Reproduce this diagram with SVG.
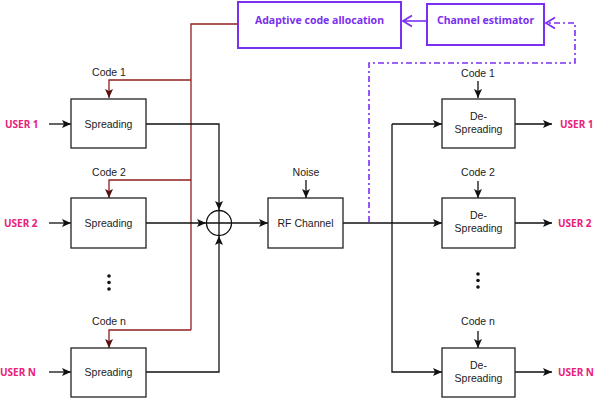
<svg xmlns="http://www.w3.org/2000/svg" width="606" height="404" viewBox="0 0 606 404">
<style>
.box{fill:#fff;stroke:#222;stroke-width:1.3}
.pbox{fill:#fff;stroke:#7b2ff0;stroke-width:2}
.ln{fill:none;stroke:#111;stroke-width:1.3}
.red{fill:none;stroke:#8e1f1f;stroke-width:1.3}
.pd{fill:none;stroke:#7b2ff0;stroke-width:1.6;stroke-dasharray:6 3 2 3}
.pl{fill:none;stroke:#7b2ff0;stroke-width:1.6}
.t{font-family:"Liberation Sans",Arial,sans-serif;font-size:10.5px;fill:#222;text-anchor:middle}
.u{font-family:"Noto Sans",sans-serif;font-size:10px;font-weight:bold;fill:#e8207a}
.p{font-family:"Noto Sans",sans-serif;font-size:10.5px;font-weight:bold;fill:#7b2ff0;text-anchor:middle}
</style>
<defs>
<marker id="ah" markerWidth="10" markerHeight="10" refX="9" refY="5" orient="auto" markerUnits="userSpaceOnUse">
<path d="M0,1 L9,5 L0,9 L2,5 Z" fill="#111"/>
</marker>
<marker id="ahr" markerWidth="10" markerHeight="10" refX="9" refY="5" orient="auto" markerUnits="userSpaceOnUse">
<path d="M0,1 L9,5 L0,9 L2,5 Z" fill="#5a1010"/>
</marker>
<marker id="ahp" markerWidth="12" markerHeight="14" refX="10" refY="7" orient="auto" markerUnits="userSpaceOnUse">
<path d="M1,1.5 L10,7 L1,12.5" fill="none" stroke="#7b2ff0" stroke-width="1.8"/>
</marker>
</defs>
<rect width="606" height="404" fill="#fff"/>
<g id="connectors">
<path class="red" d="M238,24 H191 V330"/>
<path class="red" d="M191,80 H109 V98" marker-end="url(#ahr)"/>
<path class="red" d="M191,180 H109 V198" marker-end="url(#ahr)"/>
<path class="red" d="M191,330 H109 V348" marker-end="url(#ahr)"/>
<path class="ln" d="M49,124 H71" marker-end="url(#ah)"/>
<path class="ln" d="M49,223 H71" marker-end="url(#ah)"/>
<path class="ln" d="M49,372 H71" marker-end="url(#ah)"/>
<path class="ln" d="M146,124 H219 V210" marker-end="url(#ah)"/>
<path class="ln" d="M146,223 H206" marker-end="url(#ah)"/>
<path class="ln" d="M146,372 H219 V236" marker-end="url(#ah)"/>
<path class="ln" d="M232,223 H268" marker-end="url(#ah)"/>
<path class="ln" d="M306,180 V198" marker-end="url(#ah)"/>
<path class="ln" d="M343,223 H442" marker-end="url(#ah)"/>
<path class="ln" d="M392,124 V372 H442" marker-end="url(#ah)"/>
<path class="ln" d="M392,124 H442" marker-end="url(#ah)"/>
<path class="ln" d="M478,81 V98" marker-end="url(#ah)"/>
<path class="ln" d="M478,181 V198" marker-end="url(#ah)"/>
<path class="ln" d="M478,331 V348" marker-end="url(#ah)"/>
<path class="ln" d="M515,124 H552" marker-end="url(#ah)"/>
<path class="ln" d="M515,223 H552" marker-end="url(#ah)"/>
<path class="ln" d="M515,372 H552" marker-end="url(#ah)"/>
<path class="pd" d="M369,222 V63 H575 V23 H546" marker-end="url(#ahp)"/>
<path class="pl" d="M427,21 H403" marker-end="url(#ahp)"/>
</g>
<g id="adaptive"><rect class="pbox" x="238" y="2" width="163" height="46"/><text class="p" x="319.5" y="24">Adaptive code allocation</text></g>
<g id="estimator"><rect class="pbox" x="427" y="4" width="117" height="41"/><text class="p" x="485.5" y="24">Channel estimator</text></g>
<g id="user1"><text class="u" x="5" y="127.5">USER 1</text></g>
<g id="user2"><text class="u" x="4" y="226.5">USER 2</text></g>
<g id="userN"><text class="u" x="0" y="375.5">USER N</text></g>
<g id="code1"><text class="t" x="109" y="76">Code 1</text></g>
<g id="code2"><text class="t" x="109" y="176">Code 2</text></g>
<g id="coden"><text class="t" x="109" y="325">Code  n</text></g>
<g id="spread1"><rect class="box" x="71" y="99" width="75" height="49"/><text class="t" x="108.5" y="128">Spreading</text></g>
<g id="spread2"><rect class="box" x="71" y="198" width="75" height="50"/><text class="t" x="108.5" y="226.5">Spreading</text></g>
<g id="spreadN"><rect class="box" x="71" y="348" width="75" height="49"/><text class="t" x="108.5" y="375.5">Spreading</text></g>
<g id="dotsL"><circle cx="109" cy="276" r="1.8" fill="#111"/><circle cx="109" cy="282.5" r="1.8" fill="#111"/><circle cx="109" cy="289" r="1.8" fill="#111"/></g>
<g id="adder"><circle cx="219" cy="223" r="12.5" fill="#fff" stroke="#111" stroke-width="1.3"/><path class="ln" d="M219,211 V235 M207,223 H231"/></g>
<g id="noise"><text class="t" x="306" y="176">Noise</text></g>
<g id="rf"><rect class="box" x="268" y="198" width="75" height="50"/><text class="t" x="305.5" y="226.5">RF Channel</text></g>
<g id="rcode1"><text class="t" x="478" y="77">Code 1</text></g>
<g id="rcode2"><text class="t" x="478" y="176">Code 2</text></g>
<g id="rcoden"><text class="t" x="478" y="325">Code  n</text></g>
<g id="despread1"><rect class="box" x="442" y="99" width="73" height="49"/><text class="t" x="478.5" y="120">De-</text><text class="t" x="478.5" y="133">Spreading</text></g>
<g id="despread2"><rect class="box" x="442" y="198" width="73" height="50"/><text class="t" x="478.5" y="219">De-</text><text class="t" x="478.5" y="232">Spreading</text></g>
<g id="despreadN"><rect class="box" x="442" y="348" width="73" height="49"/><text class="t" x="478.5" y="369">De-</text><text class="t" x="478.5" y="382">Spreading</text></g>
<g id="dotsR"><circle cx="478" cy="274" r="1.8" fill="#111"/><circle cx="478" cy="280.5" r="1.8" fill="#111"/><circle cx="478" cy="287" r="1.8" fill="#111"/></g>
<g id="out1"><text class="u" x="560" y="127.5">USER 1</text></g>
<g id="out2"><text class="u" x="558" y="226.5">USER 2</text></g>
<g id="outN"><text class="u" x="558" y="375.5">USER N</text></g>
</svg>
